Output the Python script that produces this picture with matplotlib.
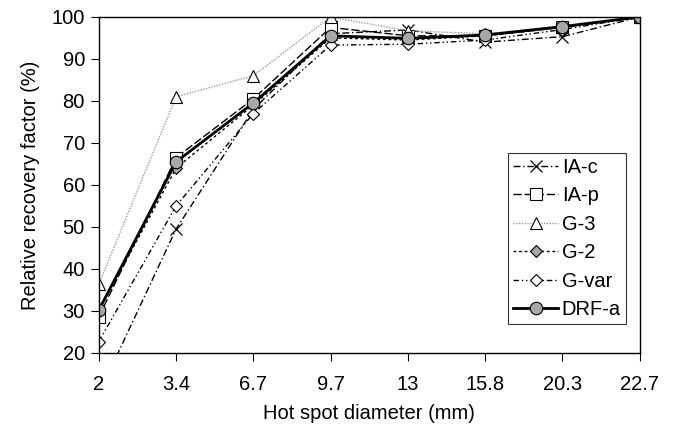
import numpy as np
import matplotlib
matplotlib.use("Agg")
import matplotlib.pyplot as plt

plt.rcParams["font.family"] = ["Liberation Sans", "DejaVu Sans"]

# hot spot diameters (mm), treated as categories
diam = ["2", "3.4", "6.7", "9.7", "13", "15.8", "20.3", "22.7"]

# relative recovery factor (%)
ia_c = [10.2, 49.5, 78.0, 96.0, 96.9, 94.0, 95.3, 100]
ia_p = [28.6, 66.5, 80.5, 97.5, 95.5, 95.5, 97.5, 100]
g_3 = [36.4, 81.0, 86.0, 100.0, 96.7, 96.0, 97.5, 100]
g_2 = [30.0, 64.0, 79.0, 95.0, 94.5, 95.5, 97.5, 100]
g_var = [22.7, 55.0, 77.0, 93.3, 93.5, 94.5, 97.0, 100]
drf_a = [30.2, 65.5, 79.5, 95.5, 94.9, 95.7, 97.7, 100]

x = np.arange(len(diam))

fig = plt.figure(figsize=(6.77, 4.34), dpi=100)
ax = fig.add_axes([0.146, 0.187, 0.799, 0.774])

ax.plot(x, ia_c, color="black", lw=1.0, ls=(0, (5, 2, 1, 2)), marker="x", ms=8,
        mew=0.9, label="IA-c")
ax.plot(x, ia_p, color="black", lw=1.0, ls=(0, (6, 2)), marker="s", ms=8,
        mfc="white", mec="black", mew=0.8, label="IA-p")
ax.plot(x, g_3, color="#9a9a9a", lw=1.0, ls=(0, (1, 1)), marker="^", ms=9,
        mfc="white", mec="black", mew=0.8, label="G-3")
ax.plot(x, g_2, color="black", lw=1.0, ls=(0, (2, 2)), marker="D", ms=6,
        mfc="#a8a8a8", mec="black", mew=0.8, label="G-2")
ax.plot(x, g_var, color="black", lw=1.0, ls=(0, (4, 2, 1, 2, 1, 2)), marker="D", ms=6,
        mfc="white", mec="black", mew=0.8, label="G-var")
ax.plot(x, drf_a, color="black", lw=2.0, ls="-", marker="o", ms=9,
        mfc="#a8a8a8", mec="black", mew=0.8, label="DRF-a")

ax.set_xlim(0, len(diam) - 1)
ax.set_ylim(20, 100)
ax.set_xticks(x)
ax.set_xticklabels(diam)
ax.set_yticks(np.arange(20, 101, 10))
ax.tick_params(labelsize=14.5, direction="out", length=6, width=0.8)
ax.tick_params(axis="x", pad=10)
ax.tick_params(axis="y", pad=4)
ax.set_xlabel("Hot spot diameter (mm)", fontsize=14.5, labelpad=7)
ax.set_ylabel("Relative recovery factor (%)", fontsize=14.5, labelpad=8)
for s in ax.spines.values():
    s.set_linewidth(1.0)

leg = ax.legend(loc="upper left", bbox_to_anchor=(0.757, 0.595), fontsize=14.5,
                frameon=True, fancybox=False, edgecolor="black", handlelength=2.2,
                handletextpad=0.2, borderpad=0.25, labelspacing=0.47, borderaxespad=0)
leg.get_frame().set_linewidth(0.8)

fig.savefig("out.png", dpi=100)
